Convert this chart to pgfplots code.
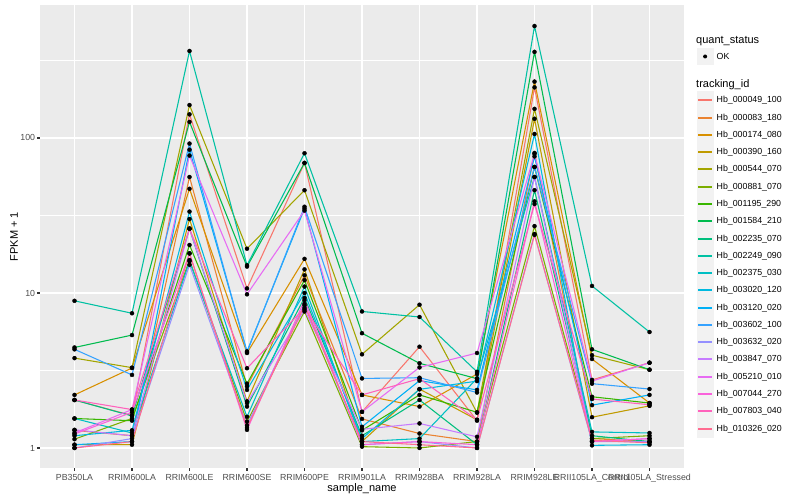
\documentclass[border=0pt]{standalone}
\usepackage{fontspec}
\setmainfont{Liberation Sans}
\usepackage{pgfplots}
\pgfplotsset{compat=1.18}
\usepackage{pgfplotstable}

\definecolor{c1}{HTML}{F8766D}
\definecolor{c2}{HTML}{EA8331}
\definecolor{c3}{HTML}{D89000}
\definecolor{c4}{HTML}{C09B00}
\definecolor{c5}{HTML}{A3A500}
\definecolor{c6}{HTML}{7CAE00}
\definecolor{c7}{HTML}{39B600}
\definecolor{c8}{HTML}{00BB4E}
\definecolor{c9}{HTML}{00BF7D}
\definecolor{c10}{HTML}{00C1A3}
\definecolor{c11}{HTML}{00BFC4}
\definecolor{c12}{HTML}{00BAE0}
\definecolor{c13}{HTML}{00B0F6}
\definecolor{c14}{HTML}{35A2FF}
\definecolor{c15}{HTML}{9590FF}
\definecolor{c16}{HTML}{C77CFF}
\definecolor{c17}{HTML}{E76BF3}
\definecolor{c18}{HTML}{FA62DB}
\definecolor{c19}{HTML}{FF62BC}
\definecolor{c20}{HTML}{FF6C91}
\definecolor{panelbg}{HTML}{EBEBEB}
\definecolor{tickgray}{HTML}{333333}
\definecolor{labgray}{HTML}{4D4D4D}
\definecolor{keybg}{HTML}{F2F2F2}

% FPKM + 1 values; rows = samples 0..10, columns = tracking ids
\pgfplotstableread{
x  s1   s2   s3   s4   s5   s6   s7   s8   s9   s10  s11  s12  s13  s14  s15  s16  s17  s18  s19  s20
0  2.04 1.3  2.2  1.05 3.8  1.14 1.55 4.45 2.04 8.9  1.55 1.2  1.05 4.33 1.0  1.31 1.25 1.23 2.04 1.0
1  1.62 1.2  3.28 1.05 3.3  1.55 1.5  5.35 1.61 7.4  1.25 1.3  1.1  2.96 1.15 1.2  1.77 1.7  1.77 1.1
2  142  56   47   30   163  16.3 20.4 127  26   364  16   33.5 84   92   15.2 26   77   18   26   18
3  10.7 2.5  4.1  2.0  19.3 1.48 2.6  14.8 1.85 15.1 1.59 2.37 4.2  4.15 1.4  1.95 9.8  1.31 3.27 1.35
4  69   13   16.6 14.2 46   7.6  12.1 69   9.3  79.7 11   10   35   36   8.5  7.8  34   9    8    8.3
5  1.71 1.54 2.2  1.1  4.02 1.02 1.3  5.5  1.2  7.6  1.1  1.15 1.37 2.81 1.05 1.32 1.71 1.05 2.2  1.1
6  4.5  1.24 1.85 2.4  8.4  1.0  2.2  3.52 2.04 7.0  1.15 2.39 2.72 2.84 1.1  1.44 3.31 1.1  2.8  1.05
7  1.5  1.1  3.0  1.52 1.69 1.1  1.7  2.8  1.05 3.1  2.81 2.7  2.37 2.28 1.0  1.18 4.1  1.05 1.52 1.0
8  212  80   231  133  154  27   65   359  46   527  56   106  76   65   24   56   79   39   37.5 23.7
9  2.75 1.15 3.75 1.58 3.97 1.15 2.14 4.33 1.2  11.1 1.27 1.04 1.89 2.6  1.1  1.1  2.7  1.1  2.07 1.12
10 3.55 1.1  1.95 1.87 3.2  1.2  1.95 3.2  1.1  5.6  1.25 1.05 2.2  2.4  1.1  1.15 3.55 1.15 1.9  1.08
}\data

\begin{document}
\begin{tikzpicture}[x=1bp,y=1bp]
\path[use as bounding box] (0,0) rectangle (800,500);
\begin{axis}[
  at={(40bp,32bp)}, anchor=south west,
  scale only axis, width=644bp, height=463bp,
  ymode=log, xmin=-0.6, xmax=10.6, ymin=0.743, ymax=721,
  axis background/.style={fill=panelbg},
  axis line style={draw=none},
  xtick={0,...,10},
  xticklabels={PB350LA,RRIM600LA,RRIM600LE,RRIM600SE,RRIM600PE,RRIM901LA,RRIM928BA,RRIM928LA,RRIM928LE,RRII105LA\_Control,RRII105LA\_Stressed},
  ytick={1,10,100}, yticklabels={1,10,100},
  minor ytick={3.16228,31.6228,316.228},
  minor x tick num=0,
  grid=both,
  major grid style={white, line width=1.07bp},
  minor grid style={white, line width=0.53bp},
  tick align=outside, tick pos=left,
  major tick length=2.75bp, minor tick length=0bp,
  major tick style={color=tickgray, line width=1.07bp},
  every tick label/.append style={font=\fontsize{8.8bp}{10bp}\selectfont, text=labgray},
  xticklabel style={anchor=base, inner sep=0pt, yshift=-10bp},
  yticklabel style={anchor=east, inner sep=0pt, xshift=-2bp},
  clip=false,
]
\pgfplotsinvokeforeach{1,...,20}{
  \addplot[color=c#1, line width=1.07bp, mark=none] table[x=x,y=s#1]{\data};
}
\pgfplotsinvokeforeach{1,...,20}{
  \addplot[only marks, mark=*, mark size=2bp, black] table[x=x,y=s#1]{\data};
}
\end{axis}
% axis titles
\node[font=\fontsize{11bp}{13bp}\selectfont] at (362,11) {sample\_name};
\node[font=\fontsize{11bp}{13bp}\selectfont, rotate=90] at (14,263.5) {FPKM + 1};
% legend: quant_status
\node[font=\fontsize{11bp}{13bp}\selectfont, anchor=west, inner sep=0pt] at (696,459.3) {quant\_status};
\fill[keybg] (696.5,434.7) rectangle (713.8,452);
\fill[black] (705.1,443.5) circle (2);
\node[font=\fontsize{8.8bp}{10bp}\selectfont, anchor=west, inner sep=0pt] at (716.5,443.3) {OK};
% legend: tracking_id
\node[font=\fontsize{11bp}{13bp}\selectfont, anchor=west, inner sep=0pt] at (696,415.7) {tracking\_id};
\foreach \i/\nm in {1/000049\_100,2/000083\_180,3/000174\_080,4/000390\_160,5/000544\_070,6/000881\_070,7/001195\_290,8/001584\_210,9/002235\_070,10/002249\_090,11/002375\_030,12/003020\_120,13/003120\_020,14/003602\_100,15/003632\_020,16/003847\_070,17/005210\_010,18/007044\_270,19/007803\_040,20/010326\_020}{
  \pgfmathsetmacro{\yc}{round(399.7-17.28*(\i-1))}
  \fill[keybg] (696.5,\yc-8.64) rectangle (713.8,\yc+8.64);
  \draw[color=c\i, line width=2bp] (698.2,\yc) -- (712.1,\yc);
  \node[font=\fontsize{8.8bp}{10bp}\selectfont, anchor=west, inner sep=0pt] at (716.5,\yc) {Hb\_\nm};
}
\end{tikzpicture}
\end{document}
